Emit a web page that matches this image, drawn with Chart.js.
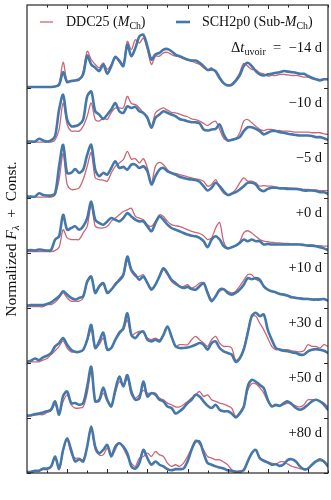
<!DOCTYPE html>
<html>
<head>
<meta charset="utf-8">
<script src="https://cdn.jsdelivr.net/npm/chart.js@4.4.0/dist/chart.umd.min.js"></script>
<style>
  body { margin: 0; background: #fff; }
</style>
</head>
<body>
<canvas id="chart" width="331" height="500"></canvas>
<script>
// wavelength grid (Angstrom), shared by every spectrum
const wavelength = [
  3000, 3100, 3200, 3300, 3400, 3500, 3600, 3700, 3800, 3900,
  4000, 4100, 4200, 4300, 4400, 4500, 4600, 4700, 4800, 4900,
  5000, 5100, 5200, 5300, 5400, 5500, 5600, 5700, 5800, 5900,
  6000, 6100, 6200, 6300, 6400, 6500, 6600, 6700, 6800, 6900,
  7000, 7100, 7200, 7300, 7400, 7500, 7600, 7700, 7800, 7900,
  8000, 8100, 8200, 8300, 8400, 8500, 8600, 8700, 8800, 8900,
  9000, 9100, 9200, 9300, 9400, 9500, 9600, 9700, 9800, 9900,
  10000, 10100, 10200, 10300, 10400, 10500
];

const epochLabels = ['\u221214 d', '\u221210 d', '\u22125 d', '+0 d', '+10 d', '+30 d', '+50 d', '+80 d'];
const offsets = [7, 6, 5, 4, 3, 2, 1, 0];

const xMajorTicks = [4000, 5000, 6000, 7000, 8000, 9000, 10000];
const xMinorTicks = [3500, 4500, 5500, 6500, 7500, 8500, 9500, 10500];

// DDC25 (M_Ch) normalized flux per epoch
const ddc25_m14 = [
  0.01, 0.01, 0.01, 0.01, 0.01, 0.01, 0.01, 0.02, 0.08, 0.46,
  0.12, 0.13, 0.13, 0.13, 0.30, 0.66, 0.51, 0.42, 0.36, 0.45,
  0.33, 0.42, 0.54, 0.51, 0.42, 0.84, 0.69, 0.87, 0.81, 0.90,
  0.69, 0.42, 0.57, 0.57, 0.63, 0.64, 0.60, 0.57, 0.56, 0.52,
  0.50, 0.48, 0.45, 0.42, 0.36, 0.32, 0.36, 0.27, 0.15, 0.07,
  0.05, 0.07, 0.15, 0.27, 0.44, 0.39, 0.33, 0.32, 0.27, 0.25,
  0.21, 0.22, 0.22, 0.24, 0.24, 0.23, 0.22, 0.22, 0.21, 0.19,
  0.19, 0.16, 0.15, 0.15, 0.16, 0.15
];
const ddc25_m10 = [
  0.01, 0.01, 0.01, 0.01, 0.01, 0.01, 0.01, 0.05, 0.24, 0.72,
  0.33, 0.21, 0.21, 0.21, 0.30, 0.48, 0.72, 0.42, 0.39, 0.45,
  0.42, 0.55, 0.63, 0.63, 0.63, 0.84, 0.71, 0.69, 0.63, 0.54,
  0.48, 0.30, 0.54, 0.60, 0.63, 0.59, 0.55, 0.54, 0.52, 0.49,
  0.47, 0.43, 0.42, 0.39, 0.35, 0.31, 0.36, 0.39, 0.24, 0.08,
  0.04, 0.05, 0.07, 0.18, 0.39, 0.42, 0.36, 0.30, 0.24, 0.22,
  0.24, 0.24, 0.22, 0.22, 0.21, 0.21, 0.20, 0.19, 0.19, 0.19,
  0.19, 0.18, 0.18, 0.18, 0.16, 0.15
];
const ddc25_m5 = [
  0.01, 0.01, 0.01, 0.01, 0.01, 0.01, 0.01, 0.05, 0.33, 0.80,
  0.24, 0.15, 0.15, 0.18, 0.33, 0.57, 0.82, 0.36, 0.33, 0.32,
  0.30, 0.45, 0.57, 0.63, 0.69, 0.84, 0.70, 0.71, 0.63, 0.71,
  0.54, 0.27, 0.57, 0.64, 0.60, 0.51, 0.45, 0.44, 0.42, 0.40,
  0.38, 0.36, 0.34, 0.33, 0.30, 0.21, 0.24, 0.33, 0.18, 0.08,
  0.05, 0.08, 0.15, 0.27, 0.36, 0.30, 0.30, 0.27, 0.21, 0.22,
  0.21, 0.21, 0.19, 0.18, 0.18, 0.18, 0.17, 0.16, 0.16, 0.15,
  0.15, 0.14, 0.14, 0.13, 0.13, 0.13
];
const ddc25_p0 = [
  0.02, 0.02, 0.02, 0.02, 0.02, 0.02, 0.02, 0.04, 0.10, 0.42,
  0.27, 0.24, 0.24, 0.24, 0.36, 0.48, 0.87, 0.48, 0.45, 0.45,
  0.48, 0.57, 0.63, 0.69, 0.75, 0.78, 0.81, 0.66, 0.63, 0.60,
  0.51, 0.48, 0.57, 0.69, 0.66, 0.57, 0.51, 0.49, 0.48, 0.45,
  0.42, 0.39, 0.37, 0.35, 0.31, 0.24, 0.27, 0.45, 0.55, 0.20,
  0.08, 0.10, 0.13, 0.20, 0.36, 0.40, 0.36, 0.30, 0.24, 0.21,
  0.20, 0.19, 0.18, 0.18, 0.17, 0.17, 0.16, 0.16, 0.15, 0.15,
  0.14, 0.14, 0.13, 0.13, 0.12, 0.12
];
const ddc25_p10 = [
  0.02, 0.02, 0.02, 0.02, 0.02, 0.06, 0.06, 0.10, 0.18, 0.27,
  0.18, 0.12, 0.12, 0.12, 0.18, 0.45, 0.55, 0.30, 0.39, 0.42,
  0.30, 0.33, 0.45, 0.48, 0.57, 0.85, 0.66, 0.57, 0.57, 0.60,
  0.45, 0.36, 0.42, 0.57, 0.69, 0.60, 0.48, 0.42, 0.39, 0.39,
  0.42, 0.36, 0.39, 0.45, 0.45, 0.30, 0.15, 0.21, 0.30, 0.33,
  0.30, 0.27, 0.30, 0.39, 0.50, 0.60, 0.60, 0.52, 0.48, 0.40,
  0.33, 0.30, 0.28, 0.26, 0.24, 0.22, 0.20, 0.19, 0.18, 0.17,
  0.17, 0.16, 0.16, 0.16, 0.15, 0.14
];
const ddc25_p30 = [
  0.02, 0.02, 0.02, 0.02, 0.05, 0.08, 0.15, 0.22, 0.30, 0.40,
  0.27, 0.20, 0.20, 0.20, 0.24, 0.40, 0.60, 0.27, 0.33, 0.45,
  0.24, 0.27, 0.42, 0.57, 0.60, 0.78, 0.50, 0.54, 0.57, 0.55,
  0.45, 0.42, 0.45, 0.42, 0.50, 0.66, 0.50, 0.30, 0.33, 0.33,
  0.33, 0.42, 0.48, 0.42, 0.36, 0.30, 0.42, 0.48, 0.36, 0.30,
  0.30, 0.27, 0.05, 0.10, 0.27, 0.57, 0.84, 0.85, 0.72, 0.60,
  0.45, 0.30, 0.24, 0.25, 0.24, 0.24, 0.22, 0.21, 0.20, 0.22,
  0.33, 0.30, 0.30, 0.27, 0.33, 0.30
];
const ddc25_p50 = [
  0.03, 0.04, 0.05, 0.06, 0.06, 0.10, 0.13, 0.24, 0.08, 0.30,
  0.42, 0.24, 0.18, 0.18, 0.20, 0.45, 0.85, 0.30, 0.30, 0.45,
  0.30, 0.24, 0.45, 0.66, 0.60, 0.72, 0.42, 0.36, 0.42, 0.50,
  0.45, 0.45, 0.45, 0.36, 0.33, 0.27, 0.24, 0.20, 0.20, 0.24,
  0.30, 0.36, 0.42, 0.48, 0.39, 0.42, 0.33, 0.30, 0.27, 0.25,
  0.22, 0.18, 0.03, 0.10, 0.22, 0.50, 0.62, 0.62, 0.55, 0.45,
  0.30, 0.22, 0.22, 0.22, 0.24, 0.27, 0.24, 0.22, 0.20, 0.24,
  0.33, 0.33, 0.33, 0.30, 0.27, 0.20
];
const ddc25_p80 = [
  0.01, 0.01, 0.03, 0.03, 0.06, 0.06, 0.10, 0.28, 0.06, 0.40,
  0.60, 0.36, 0.27, 0.27, 0.24, 0.48, 0.85, 0.42, 0.33, 0.33,
  0.45, 0.30, 0.42, 0.55, 0.45, 0.30, 0.18, 0.12, 0.27, 0.30,
  0.36, 0.30, 0.39, 0.33, 0.30, 0.18, 0.12, 0.15, 0.12, 0.18,
  0.30, 0.45, 0.60, 0.52, 0.42, 0.30, 0.27, 0.24, 0.24, 0.20,
  0.15, 0.06, 0.03, 0.04, 0.06, 0.20, 0.35, 0.42, 0.27, 0.24,
  0.20, 0.18, 0.16, 0.20, 0.20, 0.16, 0.12, 0.10, 0.08, 0.06,
  0.08, 0.15, 0.20, 0.22, 0.20, 0.15
];

// SCH2p0 (Sub-M_Ch) normalized flux per epoch
const sch2p0_m14 = [
  0.01, 0.01, 0.01, 0.01, 0.01, 0.01, 0.01, 0.02, 0.05, 0.28,
  0.10, 0.12, 0.13, 0.15, 0.24, 0.58, 0.42, 0.36, 0.30, 0.42,
  0.25, 0.39, 0.56, 0.48, 0.39, 0.78, 0.57, 0.72, 0.93, 0.96,
  0.75, 0.51, 0.60, 0.63, 0.69, 0.70, 0.66, 0.60, 0.57, 0.54,
  0.51, 0.49, 0.49, 0.45, 0.39, 0.32, 0.33, 0.30, 0.18, 0.08,
  0.04, 0.05, 0.12, 0.22, 0.39, 0.45, 0.39, 0.30, 0.24, 0.22,
  0.24, 0.25, 0.27, 0.28, 0.30, 0.29, 0.28, 0.27, 0.25, 0.25,
  0.21, 0.18, 0.15, 0.13, 0.15, 0.15
];
const sch2p0_m10 = [
  0.02, 0.02, 0.02, 0.07, 0.04, 0.02, 0.04, 0.12, 0.60, 0.87,
  0.42, 0.30, 0.30, 0.33, 0.42, 0.84, 0.93, 0.57, 0.51, 0.43,
  0.51, 0.60, 0.72, 0.57, 0.54, 0.66, 0.63, 0.65, 0.57, 0.54,
  0.45, 0.27, 0.45, 0.51, 0.57, 0.54, 0.51, 0.48, 0.43, 0.41,
  0.39, 0.37, 0.37, 0.35, 0.24, 0.22, 0.24, 0.25, 0.33, 0.15,
  0.04, 0.05, 0.07, 0.10, 0.21, 0.28, 0.28, 0.25, 0.21, 0.15,
  0.18, 0.21, 0.21, 0.19, 0.18, 0.16, 0.15, 0.14, 0.13, 0.13,
  0.13, 0.12, 0.10, 0.10, 0.08, 0.05
];
const sch2p0_m5 = [
  0.02, 0.02, 0.02, 0.08, 0.05, 0.04, 0.04, 0.08, 0.57, 0.96,
  0.45, 0.45, 0.52, 0.45, 0.51, 0.78, 0.96, 0.51, 0.39, 0.45,
  0.42, 0.54, 0.66, 0.54, 0.56, 0.51, 0.60, 0.60, 0.54, 0.57,
  0.48, 0.24, 0.39, 0.51, 0.54, 0.48, 0.45, 0.42, 0.38, 0.36,
  0.34, 0.33, 0.32, 0.29, 0.21, 0.13, 0.18, 0.27, 0.21, 0.12,
  0.05, 0.07, 0.10, 0.15, 0.21, 0.27, 0.27, 0.24, 0.15, 0.12,
  0.16, 0.18, 0.18, 0.17, 0.17, 0.16, 0.16, 0.16, 0.15, 0.13,
  0.13, 0.13, 0.12, 0.10, 0.10, 0.07
];
const sch2p0_p0 = [
  0.04, 0.05, 0.04, 0.06, 0.05, 0.04, 0.05, 0.24, 0.30, 0.69,
  0.42, 0.45, 0.48, 0.42, 0.48, 0.63, 0.93, 0.60, 0.54, 0.51,
  0.57, 0.63, 0.60, 0.57, 0.63, 0.72, 0.66, 0.60, 0.57, 0.57,
  0.48, 0.39, 0.54, 0.66, 0.60, 0.51, 0.45, 0.42, 0.39, 0.36,
  0.33, 0.31, 0.30, 0.27, 0.21, 0.10, 0.24, 0.30, 0.24, 0.12,
  0.08, 0.10, 0.13, 0.18, 0.24, 0.21, 0.24, 0.21, 0.21, 0.15,
  0.16, 0.15, 0.15, 0.15, 0.15, 0.15, 0.15, 0.15, 0.15, 0.14,
  0.13, 0.13, 0.12, 0.10, 0.08, 0.05
];
const sch2p0_p10 = [
  0.04, 0.05, 0.05, 0.05, 0.05, 0.07, 0.10, 0.15, 0.21, 0.30,
  0.24, 0.18, 0.15, 0.18, 0.21, 0.48, 0.57, 0.27, 0.39, 0.45,
  0.27, 0.33, 0.42, 0.51, 0.60, 0.93, 0.69, 0.60, 0.51, 0.57,
  0.45, 0.33, 0.42, 0.57, 0.72, 0.63, 0.51, 0.45, 0.39, 0.36,
  0.38, 0.34, 0.33, 0.39, 0.45, 0.27, 0.12, 0.21, 0.33, 0.34,
  0.27, 0.24, 0.27, 0.33, 0.42, 0.54, 0.52, 0.54, 0.51, 0.39,
  0.33, 0.30, 0.28, 0.25, 0.24, 0.22, 0.19, 0.18, 0.17, 0.16,
  0.16, 0.15, 0.15, 0.15, 0.16, 0.13
];
const sch2p0_p30 = [
  0.02, 0.04, 0.08, 0.05, 0.10, 0.13, 0.18, 0.30, 0.36, 0.45,
  0.33, 0.24, 0.20, 0.20, 0.24, 0.42, 0.69, 0.27, 0.39, 0.55,
  0.24, 0.27, 0.42, 0.54, 0.63, 0.90, 0.51, 0.45, 0.54, 0.57,
  0.42, 0.39, 0.42, 0.39, 0.51, 0.66, 0.48, 0.30, 0.27, 0.27,
  0.28, 0.30, 0.33, 0.36, 0.33, 0.24, 0.36, 0.39, 0.27, 0.21,
  0.18, 0.15, 0.02, 0.08, 0.24, 0.54, 0.85, 0.91, 0.85, 0.88,
  0.60, 0.42, 0.27, 0.24, 0.22, 0.21, 0.19, 0.18, 0.15, 0.15,
  0.21, 0.24, 0.25, 0.24, 0.22, 0.18
];
const sch2p0_p50 = [
  0.04, 0.05, 0.07, 0.08, 0.10, 0.12, 0.15, 0.30, 0.06, 0.40,
  0.48, 0.27, 0.27, 0.24, 0.27, 0.57, 0.93, 0.30, 0.33, 0.55,
  0.33, 0.21, 0.51, 0.75, 0.57, 0.78, 0.48, 0.33, 0.36, 0.66,
  0.39, 0.45, 0.42, 0.33, 0.30, 0.21, 0.18, 0.08, 0.12, 0.18,
  0.27, 0.33, 0.42, 0.39, 0.30, 0.22, 0.18, 0.24, 0.15, 0.12,
  0.12, 0.08, 0.01, 0.08, 0.20, 0.57, 0.69, 0.66, 0.60, 0.54,
  0.33, 0.21, 0.24, 0.22, 0.27, 0.30, 0.25, 0.18, 0.15, 0.18,
  0.24, 0.30, 0.33, 0.30, 0.24, 0.15
];
const sch2p0_p80 = [
  0.02, 0.02, 0.04, 0.04, 0.08, 0.08, 0.12, 0.30, 0.08, 0.42,
  0.63, 0.42, 0.21, 0.25, 0.21, 0.48, 0.84, 0.48, 0.36, 0.42,
  0.51, 0.30, 0.48, 0.54, 0.48, 0.36, 0.12, 0.08, 0.18, 0.42,
  0.27, 0.15, 0.21, 0.15, 0.12, 0.07, 0.05, 0.07, 0.07, 0.08,
  0.21, 0.42, 0.57, 0.57, 0.36, 0.18, 0.15, 0.12, 0.10, 0.08,
  0.05, 0.04, 0.02, 0.02, 0.05, 0.21, 0.36, 0.42, 0.27, 0.22,
  0.19, 0.15, 0.16, 0.13, 0.16, 0.24, 0.25, 0.21, 0.12, 0.07,
  0.08, 0.15, 0.21, 0.25, 0.21, 0.12
];

const ddc25 = [ddc25_m14, ddc25_m10, ddc25_m5, ddc25_p0, ddc25_p10, ddc25_p30, ddc25_p50, ddc25_p80];
const sch2p0 = [sch2p0_m14, sch2p0_m10, sch2p0_m5, sch2p0_p0, sch2p0_p10, sch2p0_p30, sch2p0_p50, sch2p0_p80];

const RED = '#CC6677';
const BLUE = '#4477AA';
const INK = '#262626';
const SERIF = '"Liberation Serif", "DejaVu Serif", serif';

const datasets = [];
offsets.forEach((off, i) => {
  datasets.push({
    label: 'DDC25',
    data: wavelength.map((w, k) => ({ x: w, y: ddc25[i][k] + off })),
    borderColor: RED,
    borderWidth: 1.3,
    order: 1
  });
  datasets.push({
    label: 'SCH2p0',
    data: wavelength.map((w, k) => ({ x: w, y: sch2p0[i][k] + off })),
    borderColor: BLUE,
    borderWidth: 2.6,
    order: 0
  });
});

// draws text with roman / italic / subscript pieces, like matplotlib mathtext
function drawMath(ctx, parts, x, y, size, align) {
  const fontFor = s => {
    const sub = s.indexOf('sub') === 0;
    const it = s === 'it' || s === 'subit';
    return (it ? 'italic ' : '') + (sub ? size * 0.7 : size) + 'px ' + SERIF;
  };
  let w = 0;
  parts.forEach(([t, s]) => { ctx.font = fontFor(s); w += ctx.measureText(t).width; });
  let cx = align === 'right' ? x - w : align === 'center' ? x - w / 2 : x;
  ctx.textAlign = 'left';
  ctx.textBaseline = 'alphabetic';
  parts.forEach(([t, s]) => {
    ctx.font = fontFor(s);
    ctx.fillText(t, cx, s.indexOf('sub') === 0 ? y + size * 0.22 : y);
    cx += ctx.measureText(t).width;
  });
}

const decorations = {
  id: 'decorations',
  afterDatasetsDraw(chart) {
    const { ctx, chartArea: a, scales: { x, y } } = chart;
    ctx.save();
    ctx.strokeStyle = INK;
    ctx.lineWidth = 1;

    // inward ticks on all four sides
    ctx.beginPath();
    xMajorTicks.forEach(v => {
      const px = Math.round(x.getPixelForValue(v)) + 0.5;
      ctx.moveTo(px, a.bottom); ctx.lineTo(px, a.bottom - 4);
      ctx.moveTo(px, a.top); ctx.lineTo(px, a.top + 4);
    });
    xMinorTicks.forEach(v => {
      const px = Math.round(x.getPixelForValue(v)) + 0.5;
      ctx.moveTo(px, a.bottom); ctx.lineTo(px, a.bottom - 2.5);
      ctx.moveTo(px, a.top); ctx.lineTo(px, a.top + 2.5);
    });
    offsets.forEach(v => {
      const py = Math.round(y.getPixelForValue(v)) + 0.5;
      ctx.moveTo(a.left, py); ctx.lineTo(a.left + 4, py);
      ctx.moveTo(a.right, py); ctx.lineTo(a.right - 4, py);
    });
    ctx.stroke();

    // frame
    ctx.lineWidth = 1.2;
    ctx.strokeRect(a.left, a.top, a.right - a.left, a.bottom - a.top);

    ctx.fillStyle = '#111';
    // epoch labels
    offsets.forEach((off, i) => {
      const py = y.getPixelForValue(off + 0.65);
      if (i === 0) {
        drawMath(ctx, [['\u0394', 'rm'], ['t', 'it'], ['uvoir', 'sub'], ['\u2002=\u2002' + epochLabels[i], 'rm']],
          a.right - 6, py, 14.5, 'right');
      } else {
        drawMath(ctx, [[epochLabels[i], 'rm']], a.right - 6, py, 14.5, 'right');
      }
    });

    // legend
    const ly = 22;
    ctx.lineWidth = 1.3;
    ctx.strokeStyle = RED;
    ctx.beginPath(); ctx.moveTo(40, ly); ctx.lineTo(53, ly); ctx.stroke();
    ctx.lineWidth = 2.6;
    ctx.strokeStyle = BLUE;
    ctx.beginPath(); ctx.moveTo(176, ly); ctx.lineTo(190, ly); ctx.stroke();
    drawMath(ctx, [['DDC25 (', 'rm'], ['M', 'it'], ['Ch', 'sub'], [')', 'rm']], 66, 26, 14, 'left');
    drawMath(ctx, [['SCH2p0 (Sub-', 'rm'], ['M', 'it'], ['Ch', 'sub'], [')', 'rm']], 202, 26, 14, 'left');

    // y axis title
    ctx.translate(15.5, (a.top + a.bottom) / 2);
    ctx.rotate(-Math.PI / 2);
    drawMath(ctx, [['Normalized ', 'rm'], ['F', 'it'], ['\u03bb', 'subit'], ['\u2002+\u2002Const.', 'rm']], 0, 0, 15.5, 'center');
    ctx.restore();
  }
};

new Chart(document.getElementById('chart').getContext('2d'), {
  type: 'line',
  data: { datasets },
  options: {
    responsive: false,
    animation: false,
    layout: { padding: { left: 27, right: 3, top: 5, bottom: 27 } },
    scales: {
      x: { type: 'linear', min: 3000, max: 10500, display: false },
      y: { min: 0, max: 8.5, display: false }
    },
    plugins: { legend: { display: false }, tooltip: { enabled: false } },
    elements: { point: { radius: 0 }, line: { tension: 0.3, borderCapStyle: 'round', borderJoinStyle: 'round' } }
  },
  plugins: [decorations]
});
</script>
</body>
</html>
